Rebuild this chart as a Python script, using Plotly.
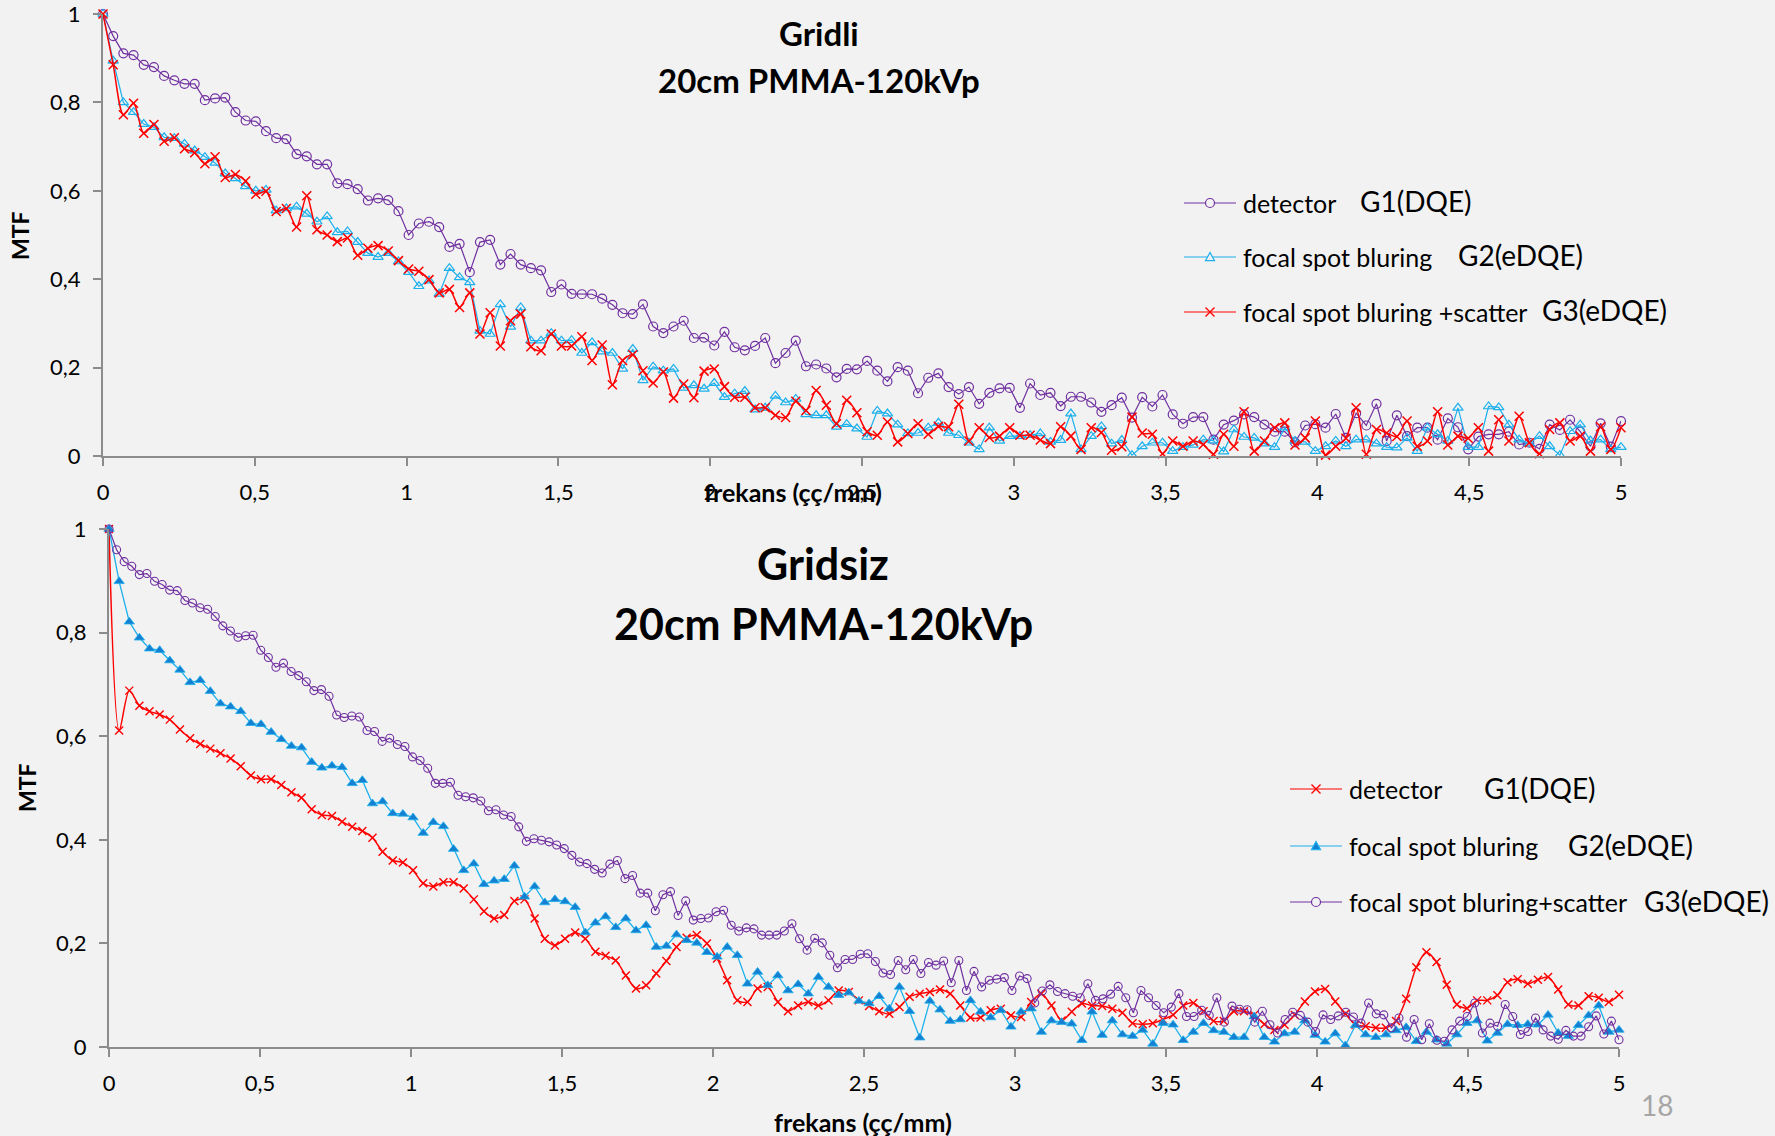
import plotly.graph_objects as go

W, H = 1775, 1136
BG = "#f2f2f2"
PURPLE = "#7030a0"
LBLUE = "#1cb0ec"
DBLUE = "#1580d2"
RED = "#ff0000"
AXIS = "#8c8c8c"
FONT = "Lato"

# ---------------- data ----------------
# frequency samples (cycles/mm): 150 evenly spaced samples 0..5 for most curves,
# 200 samples 0..5 for the purple curve of the lower chart
freq_150 = [round(i * 5 / 149, 5) for i in range(150)]
freq_200 = [round(i * 5 / 199, 5) for i in range(200)]

# Upper chart: "Gridli"
gridli_detector = [
    1.0, 0.95, 0.911, 0.907, 0.885, 0.88, 0.86, 0.85, 0.842, 0.842,
    0.805, 0.809, 0.811, 0.778, 0.759, 0.757, 0.735, 0.719, 0.717, 0.683,
    0.678, 0.66, 0.66, 0.617, 0.615, 0.604, 0.578, 0.583, 0.579, 0.554,
    0.50, 0.526, 0.53, 0.518, 0.473, 0.48, 0.416, 0.484, 0.489, 0.433,
    0.457, 0.433, 0.425, 0.42, 0.371, 0.388, 0.367, 0.366, 0.366, 0.356,
    0.342, 0.323, 0.321, 0.343, 0.293, 0.278, 0.293, 0.306, 0.267, 0.268,
    0.25, 0.281, 0.246, 0.239, 0.249, 0.267, 0.21, 0.233, 0.261, 0.203,
    0.207, 0.198, 0.178, 0.197, 0.196, 0.215, 0.193, 0.169, 0.201, 0.193,
    0.142, 0.177, 0.187, 0.156, 0.14, 0.156, 0.118, 0.143, 0.153, 0.154,
    0.109, 0.164, 0.138, 0.143, 0.113, 0.134, 0.134, 0.121, 0.10, 0.115,
    0.132, 0.087, 0.133, 0.112, 0.138, 0.094, 0.073, 0.088, 0.088, 0.037,
    0.071, 0.08, 0.094, 0.088, 0.071, 0.055, 0.055, 0.031, 0.069, 0.072,
    0.064, 0.095, 0.041, 0.097, 0.069, 0.118, 0.034, 0.092, 0.045, 0.064,
    0.064, 0.037, 0.085, 0.065, 0.015, 0.044, 0.049, 0.049, 0.055, 0.026,
    0.03, 0.016, 0.071, 0.059, 0.082, 0.055, 0.022, 0.074, 0.021, 0.079,
]
gridli_focal = [
    1.0, 0.894, 0.80, 0.778, 0.751, 0.744, 0.721, 0.719, 0.706, 0.691,
    0.676, 0.663, 0.639, 0.628, 0.61, 0.60, 0.602, 0.555, 0.56, 0.564,
    0.548, 0.53, 0.542, 0.506, 0.508, 0.484, 0.459, 0.45, 0.459, 0.44,
    0.416, 0.384, 0.397, 0.367, 0.425, 0.404, 0.393, 0.283, 0.276, 0.343,
    0.292, 0.336, 0.261, 0.261, 0.278, 0.261, 0.262, 0.233, 0.257, 0.236,
    0.233, 0.197, 0.242, 0.171, 0.202, 0.193, 0.197, 0.154, 0.16, 0.152,
    0.165, 0.133, 0.141, 0.147, 0.105, 0.109, 0.136, 0.121, 0.129, 0.094,
    0.092, 0.092, 0.066, 0.072, 0.062, 0.043, 0.102, 0.096, 0.071, 0.051,
    0.052, 0.064, 0.075, 0.052, 0.047, 0.03, 0.015, 0.064, 0.034, 0.045,
    0.045, 0.047, 0.051, 0.032, 0.036, 0.096, 0.015, 0.045, 0.067, 0.028,
    0.036, 0.002, 0.022, 0.03, 0.03, 0.011, 0.02, 0.025, 0.037, 0.035,
    0.01, 0.06, 0.043, 0.041, 0.028, 0.02, 0.064, 0.034, 0.032, 0.011,
    0.022, 0.034, 0.022, 0.037, 0.037, 0.028, 0.02, 0.019, 0.041, 0.011,
    0.064, 0.049, 0.034, 0.109, 0.02, 0.02, 0.112, 0.11, 0.071, 0.037,
    0.028, 0.045, 0.022, 0.002, 0.056, 0.071, 0.035, 0.037, 0.015, 0.02,
]
gridli_scatter = [
    1.0, 0.885, 0.772, 0.798, 0.73, 0.75, 0.712, 0.72, 0.695, 0.686,
    0.661, 0.677, 0.63, 0.637, 0.622, 0.592, 0.599, 0.553, 0.56, 0.518,
    0.589, 0.512, 0.50, 0.485, 0.493, 0.454, 0.47, 0.476, 0.464, 0.442,
    0.423, 0.418, 0.399, 0.369, 0.377, 0.336, 0.369, 0.276, 0.324, 0.249,
    0.306, 0.321, 0.247, 0.238, 0.276, 0.249, 0.249, 0.27, 0.216, 0.251,
    0.161, 0.216, 0.229, 0.193, 0.165, 0.19, 0.131, 0.163, 0.132, 0.192,
    0.197, 0.157, 0.133, 0.133, 0.109, 0.109, 0.092, 0.087, 0.124, 0.103,
    0.148, 0.115, 0.073, 0.126, 0.098, 0.055, 0.047, 0.077, 0.032, 0.051,
    0.073, 0.049, 0.067, 0.066, 0.117, 0.034, 0.064, 0.042, 0.045, 0.064,
    0.047, 0.047, 0.036, 0.028, 0.066, 0.045, 0.015, 0.064, 0.053, 0.013,
    0.021, 0.088, 0.052, 0.049, 0.005, 0.034, 0.022, 0.034, 0.026, 0.004,
    0.049, 0.022, 0.1, 0.011, 0.034, 0.064, 0.075, 0.025, 0.041, 0.079,
    0.002, 0.022, 0.04, 0.109, 0.004, 0.06, 0.052, 0.044, 0.079, 0.022,
    0.034, 0.1, 0.025, 0.045, 0.04, 0.064, 0.011, 0.082, 0.034, 0.09,
    0.03, 0.005, 0.06, 0.075, 0.034, 0.045, 0.011, 0.066, 0.015, 0.064,
]

# Lower chart: "Gridsiz"
gridsiz_detector = [
    1.0, 0.611, 0.688, 0.659, 0.648, 0.642, 0.632, 0.613, 0.596, 0.585,
    0.576, 0.567, 0.557, 0.542, 0.524, 0.517, 0.517, 0.506, 0.492, 0.481,
    0.459, 0.448, 0.446, 0.435, 0.425, 0.417, 0.404, 0.377, 0.36, 0.356,
    0.341, 0.316, 0.31, 0.318, 0.318, 0.306, 0.285, 0.262, 0.248, 0.255,
    0.282, 0.285, 0.248, 0.209, 0.196, 0.209, 0.221, 0.209, 0.184, 0.176,
    0.167, 0.138, 0.113, 0.119, 0.142, 0.166, 0.193, 0.211, 0.216, 0.2,
    0.171, 0.129, 0.09, 0.087, 0.113, 0.116, 0.087, 0.069, 0.08, 0.087,
    0.08, 0.09, 0.109, 0.106, 0.09, 0.079, 0.069, 0.064, 0.077, 0.097,
    0.103, 0.106, 0.111, 0.103, 0.08, 0.057, 0.057, 0.071, 0.074, 0.061,
    0.058, 0.087, 0.103, 0.08, 0.051, 0.068, 0.084, 0.08, 0.079, 0.074,
    0.066, 0.046, 0.044, 0.046, 0.053, 0.062, 0.08, 0.085, 0.069, 0.05,
    0.05, 0.069, 0.069, 0.062, 0.044, 0.033, 0.043, 0.062, 0.088, 0.107,
    0.112, 0.088, 0.064, 0.043, 0.04, 0.037, 0.037, 0.05, 0.093, 0.154,
    0.183, 0.164, 0.12, 0.082, 0.075, 0.09, 0.09, 0.1, 0.125, 0.131,
    0.122, 0.13, 0.135, 0.111, 0.082, 0.08, 0.098, 0.095, 0.087, 0.101,
]
gridsiz_focal = [
    1.0, 0.899, 0.821, 0.79, 0.769, 0.766, 0.746, 0.728, 0.704, 0.708,
    0.687, 0.663, 0.657, 0.648, 0.625, 0.623, 0.608, 0.594, 0.581, 0.578,
    0.55, 0.539, 0.543, 0.54, 0.509, 0.515, 0.47, 0.474, 0.451, 0.45,
    0.443, 0.413, 0.434, 0.426, 0.382, 0.341, 0.354, 0.314, 0.321, 0.324,
    0.35, 0.29, 0.31, 0.279, 0.285, 0.281, 0.27, 0.221, 0.24, 0.252,
    0.231, 0.248, 0.225, 0.235, 0.193, 0.195, 0.217, 0.206, 0.201, 0.183,
    0.174, 0.193, 0.177, 0.122, 0.145, 0.119, 0.138, 0.109, 0.121, 0.103,
    0.135, 0.116, 0.1, 0.105, 0.089, 0.084, 0.098, 0.074, 0.116, 0.069,
    0.018, 0.089, 0.072, 0.05, 0.053, 0.09, 0.068, 0.057, 0.071, 0.039,
    0.068, 0.074, 0.029, 0.051, 0.048, 0.045, 0.013, 0.068, 0.023, 0.051,
    0.024, 0.021, 0.033, 0.006, 0.046, 0.043, 0.013, 0.029, 0.046, 0.032,
    0.029, 0.019, 0.019, 0.059, 0.019, 0.01, 0.026, 0.029, 0.051, 0.023,
    0.01, 0.026, 0.003, 0.042, 0.024, 0.019, 0.024, 0.032, 0.038, 0.011,
    0.029, 0.014, 0.006, 0.024, 0.046, 0.051, 0.012, 0.027, 0.044, 0.042,
    0.044, 0.043, 0.062, 0.027, 0.021, 0.042, 0.061, 0.08, 0.029, 0.033,
]
gridsiz_scatter = [
    1.0, 0.96, 0.937, 0.928, 0.912, 0.914, 0.899, 0.893, 0.882, 0.881,
    0.862, 0.857, 0.848, 0.845, 0.831, 0.813, 0.803, 0.791, 0.794, 0.795,
    0.766, 0.752, 0.733, 0.741, 0.725, 0.717, 0.705, 0.688, 0.69, 0.677,
    0.641, 0.636, 0.639, 0.637, 0.611, 0.609, 0.59, 0.596, 0.584, 0.58,
    0.56, 0.553, 0.538, 0.509, 0.509, 0.511, 0.486, 0.483, 0.481, 0.475,
    0.456, 0.458, 0.448, 0.445, 0.425, 0.397, 0.402, 0.399, 0.396, 0.39,
    0.383, 0.37, 0.357, 0.354, 0.343, 0.336, 0.353, 0.36, 0.325, 0.331,
    0.297, 0.297, 0.263, 0.294, 0.3, 0.254, 0.282, 0.245, 0.248, 0.249,
    0.261, 0.264, 0.235, 0.224, 0.23, 0.228, 0.216, 0.216, 0.216, 0.224,
    0.238, 0.209, 0.187, 0.21, 0.201, 0.177, 0.153, 0.169, 0.169, 0.179,
    0.18, 0.165, 0.143, 0.14, 0.167, 0.149, 0.169, 0.142, 0.163, 0.158,
    0.166, 0.124, 0.167, 0.109, 0.146, 0.116, 0.129, 0.131, 0.134, 0.109,
    0.137, 0.132, 0.085, 0.108, 0.12, 0.107, 0.103, 0.098, 0.095, 0.122,
    0.09, 0.093, 0.102, 0.117, 0.095, 0.066, 0.109, 0.095, 0.08, 0.066,
    0.077, 0.103, 0.059, 0.059, 0.071, 0.061, 0.095, 0.048, 0.079, 0.073,
    0.072, 0.048, 0.069, 0.043, 0.027, 0.053, 0.067, 0.061, 0.048, 0.03,
    0.062, 0.053, 0.06, 0.067, 0.058, 0.046, 0.085, 0.064, 0.062, 0.037,
    0.056, 0.019, 0.053, 0.014, 0.045, 0.013, 0.011, 0.033, 0.05, 0.059,
    0.085, 0.027, 0.046, 0.04, 0.082, 0.059, 0.024, 0.03, 0.056, 0.033,
    0.021, 0.015, 0.032, 0.021, 0.021, 0.039, 0.06, 0.025, 0.05, 0.014,
]

x_ticks = [0, 0.5, 1, 1.5, 2, 2.5, 3, 3.5, 4, 4.5, 5]
y_ticks = [0, 0.2, 0.4, 0.6, 0.8, 1]

top_title = ["Gridli", "20cm PMMA-120kVp"]
bottom_title = ["Gridsiz", "20cm PMMA-120kVp"]
top_legend = [("detector", "G1(DQE)"), ("focal spot bluring", "G2(eDQE)"),
              ("focal spot bluring +scatter", "G3(eDQE)")]
bottom_legend = [("detector", "G1(DQE)"), ("focal spot bluring", "G2(eDQE)"),
                 ("focal spot bluring+scatter", "G3(eDQE)")]
x_title = "frekans (çç/mm)"
y_title = "MTF"


def px(x):
    return x / W


def py(y):
    return 1 - y / H


fig = go.Figure()

# ---------- upper chart traces ----------
fig.add_trace(go.Scatter(
    x=freq_150, y=gridli_detector, mode="lines+markers", name="detector",
    line=dict(color=PURPLE, width=1.2),
    marker=dict(symbol="circle-open", size=9, color=PURPLE, line=dict(width=1.2)),
    xaxis="x", yaxis="y", cliponaxis=False, showlegend=False))
fig.add_trace(go.Scatter(
    x=freq_150, y=gridli_focal, mode="lines+markers", name="focal spot bluring",
    line=dict(color=LBLUE, width=1.2),
    marker=dict(symbol="triangle-up-open", size=9, color=LBLUE, line=dict(width=1.2)),
    xaxis="x", yaxis="y", cliponaxis=False, showlegend=False))
fig.add_trace(go.Scatter(
    x=freq_150, y=gridli_scatter, mode="lines+markers", name="focal spot bluring +scatter",
    line=dict(color=RED, width=1.5, shape="spline", smoothing=0.8),
    marker=dict(symbol="x-thin", size=9, color=RED, line=dict(width=1.5, color=RED)),
    xaxis="x", yaxis="y", cliponaxis=False, showlegend=False))

# ---------- lower chart traces ----------
fig.add_trace(go.Scatter(
    x=freq_150, y=gridsiz_detector, mode="lines+markers", name="detector",
    line=dict(color=RED, width=1.5, shape="spline", smoothing=0.8),
    marker=dict(symbol="x-thin", size=8, color=RED, line=dict(width=1.4, color=RED)),
    xaxis="x2", yaxis="y2", cliponaxis=False, showlegend=False))
fig.add_trace(go.Scatter(
    x=freq_150, y=gridsiz_focal, mode="lines+markers", name="focal spot bluring",
    line=dict(color=LBLUE, width=1.3),
    marker=dict(symbol="triangle-up", size=9, color=DBLUE, line=dict(width=0.8, color=LBLUE)),
    xaxis="x2", yaxis="y2", cliponaxis=False, showlegend=False))
fig.add_trace(go.Scatter(
    x=freq_200, y=gridsiz_scatter, mode="lines+markers", name="focal spot bluring+scatter",
    line=dict(color=PURPLE, width=1.2),
    marker=dict(symbol="circle-open", size=8, color=PURPLE, line=dict(width=1.1)),
    xaxis="x2", yaxis="y2", cliponaxis=False, showlegend=False))

axis_common = dict(
    showgrid=False, zeroline=False, showline=True, linecolor=AXIS, linewidth=2,
    ticks="outside", ticklen=8, tickwidth=2, tickcolor=AXIS,
    tickfont=dict(family=FONT, size=22, color="#000000"),
    fixedrange=True, automargin=False, ticklabeloverflow="allow",
)

fig.update_layout(
    width=W, height=H,
    margin=dict(l=0, r=0, t=0, b=0, pad=0, autoexpand=False),
    paper_bgcolor=BG, plot_bgcolor=BG,
    separators=",.",
    font=dict(family=FONT, color="#000000"),
    xaxis=dict(domain=[px(103), px(1621)], range=[0, 5], tickvals=x_ticks,
               anchor="y", ticklabelstandoff=8, **axis_common),
    yaxis=dict(domain=[py(456), py(14)], range=[0, 1], tickvals=y_ticks,
               anchor="x", ticklabelstandoff=8, **axis_common),
    xaxis2=dict(domain=[px(109), px(1619)], range=[0, 5], tickvals=x_ticks,
                anchor="y2", ticklabelstandoff=8, **axis_common),
    yaxis2=dict(domain=[py(1047), py(529)], range=[0, 1], tickvals=y_ticks,
                anchor="x2", ticklabelstandoff=8, **axis_common),
    showlegend=False,
)

annotations = []


def text(t, x, y, size, bold=False, color="#000000", xanchor="center", angle=0):
    annotations.append(dict(
        text=f"<b>{t}</b>" if bold else t, x=px(x), y=py(y), xref="paper", yref="paper",
        showarrow=False, xanchor=xanchor, yanchor="middle", textangle=angle,
        font=dict(family=FONT, size=size, color=color)))


# titles
text(top_title[0], 819, 33, 33, bold=True)
text(top_title[1], 819, 80, 33, bold=True)
text(bottom_title[0], 823, 563, 43, bold=True)
text(bottom_title[1], 823, 623, 43, bold=True)

# axis titles
text(y_title, 20, 236, 23, bold=True, angle=-90)
text(y_title, 27, 788, 23, bold=True, angle=-90)
text(x_title, 793, 492, 25, bold=True)
text(x_title, 863, 1122, 25, bold=True)

# page number
text("18", 1657, 1105, 28, color="#a6a6a6")

shapes = []


def legend_row(x0, x1, y, color, symbol, fill=None, lw=1.2):
    shapes.append(dict(type="line", xref="paper", yref="paper",
                       x0=px(x0), x1=px(x1), y0=py(y), y1=py(y),
                       line=dict(color=color, width=lw)))
    cx = (x0 + x1) / 2
    r = 4.5
    if symbol == "circle":
        shapes.append(dict(type="circle", xref="paper", yref="paper",
                           x0=px(cx - r), x1=px(cx + r), y0=py(y + r), y1=py(y - r),
                           line=dict(color=color, width=1.2), fillcolor=BG))
    elif symbol == "triangle":
        path = (f"M {px(cx - r)},{py(y + r * 0.8)} L {px(cx + r)},{py(y + r * 0.8)} "
                f"L {px(cx)},{py(y - r)} Z")
        shapes.append(dict(type="path", xref="paper", yref="paper", path=path,
                           line=dict(color=color if fill is None else LBLUE, width=1.2),
                           fillcolor=BG if fill is None else fill))
    elif symbol == "x":
        path = (f"M {px(cx - r)},{py(y - r)} L {px(cx + r)},{py(y + r)} "
                f"M {px(cx - r)},{py(y + r)} L {px(cx + r)},{py(y - r)}")
        shapes.append(dict(type="path", xref="paper", yref="paper", path=path,
                           line=dict(color=color, width=1.4)))


# upper legend
top_rows_y = [203, 257, 312]
top_g_x = [1358, 1456, 1540]
top_styles = [(PURPLE, "circle", None), (LBLUE, "triangle", None), (RED, "x", None)]
for (lab, g), yy, gx, (col, sym, fill) in zip(top_legend, top_rows_y, top_g_x, top_styles):
    legend_row(1184, 1236, yy, col, sym, fill)
    text(lab, 1241, yy, 25, xanchor="left")
    text(g, gx, yy - 2, 28, xanchor="left")

# lower legend
bot_rows_y = [789, 846, 902]
bot_g_x = [1482, 1566, 1642]
bot_styles = [(RED, "x", None), (LBLUE, "triangle", DBLUE), (PURPLE, "circle", None)]
for (lab, g), yy, gx, (col, sym, fill) in zip(bottom_legend, bot_rows_y, bot_g_x, bot_styles):
    legend_row(1290, 1342, yy, col, sym, fill)
    text(lab, 1347, yy, 25, xanchor="left")
    text(g, gx, yy - 1, 28, xanchor="left")

fig.update_layout(annotations=annotations, shapes=shapes)

fig.write_html("out.html")
